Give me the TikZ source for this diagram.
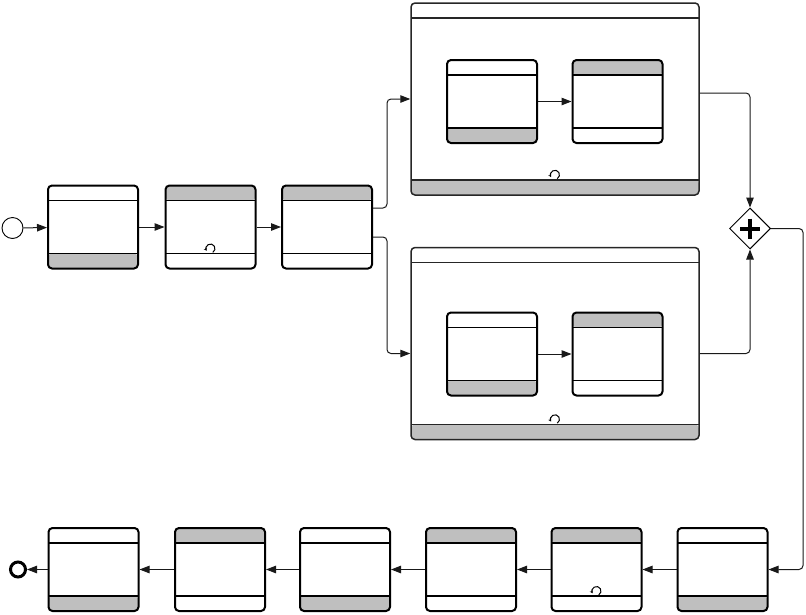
\documentclass[tikz,border=0pt]{standalone}
\usepackage{tikz}
\usetikzlibrary{calc}
\usetikzlibrary{arrows.meta}
\usetikzlibrary{shapes.geometric}

\begin{document}
\begin{tikzpicture}[
  x=1pt, y=-1pt,
  chor/.style 2 args={rectangle, rounded corners=4pt, draw, fill=white,
    line width=2pt, minimum width=90pt, minimum height=83pt, inner sep=0pt,
    path picture={
      \fill[#1] (path picture bounding box.north west) rectangle ([yshift=-15pt]path picture bounding box.north east);
      \fill[#2] (path picture bounding box.south west) rectangle ([yshift=15pt]path picture bounding box.south east);
      \draw[line width=1.7pt] ([yshift=-15pt]path picture bounding box.north west) -- ([yshift=-15pt]path picture bounding box.north east);
      \draw[line width=1.7pt] ([yshift=15pt]path picture bounding box.south west) -- ([yshift=15pt]path picture bounding box.south east);
    }},
  sub/.style 2 args={chor={#1}{#2}, minimum width=288pt, minimum height=192pt,
    line width=1.5pt, draw=black!85},
  startev/.style={circle, draw, fill=white, line width=0.9pt, minimum size=21pt, inner sep=0pt},
  endev/.style={circle, draw, fill=white, line width=3pt, minimum size=15pt, inner sep=0pt},
  gate/.style={diamond, draw, fill=white, line width=1pt, minimum width=41pt,
    minimum height=41pt, inner sep=0pt},
  flow/.style={draw=black!90, line width=1pt, rounded corners=4pt,
    -{Triangle[length=10pt,width=7.5pt]}},
  loopmark/.style={line width=1pt, -{Stealth[length=3pt,width=3.5pt]}}
]
\useasboundingbox (0,0) rectangle (806,614);

% ====== TOP ROW ======
\node[startev] (start) at (12.5,228) {};
\node[chor={white}{black!25}] (t1) at (93,227) {};
\node[chor={black!25}{white}] (t2) at (210.5,227) {};
\node[chor={black!25}{white}] (t3) at (327,227) {};

% ====== SUBPROCESSES ======
\node[sub={white}{black!25}] (sub1) at (555,99) {};
\node[chor={white}{black!25}] (s1a) at (492,101.5) {};
\node[chor={black!25}{white}] (s1b) at (617.5,101.5) {};

\node[sub={white}{black!25}] (sub2) at (555,343.5) {};
\node[chor={white}{black!25}] (s2a) at (492,354) {};
\node[chor={black!25}{white}] (s2b) at (617.5,354) {};

% ====== GATEWAY ======
\node[gate] (gw) at (750,228.5) {};
\draw[line width=4pt] ($(gw)+(-10,0)$) -- ($(gw)+(10,0)$);
\draw[line width=4pt] ($(gw)+(0,-10)$) -- ($(gw)+(0,10)$);

% ====== BOTTOM ROW ======
\foreach \name/\x/\tfill/\bfill in {a/93.5/white/black!25, b/220/black!25/white,
    c/345/white/black!25, d/471/black!25/white, e/596.5/black!25/white,
    f/722.5/white/black!25}{
  \node[chor={\tfill}{\bfill}] (\name) at (\x,569.5) {};
}
\node[endev] (end) at (18,569.5) {};

% ====== LOOP MARKERS ======
\foreach \n in {t2, sub1, sub2, e}{
  \draw[loopmark] ($(\n.south)+(0,-21)$) ++(60:4.5) arc[start angle=60, end angle=-210, radius=4.5];
}

% ====== FLOWS ======
\draw[flow] (start) -- (t1);
\draw[flow] (t1) -- (t2);
\draw[flow] (t2) -- (t3);
\draw[flow] ($(t3.east)+(0,-19)$) -- ++(14,0) |- (sub1.west);
\draw[flow] ($(t3.east)+(0,10)$) -- ++(14,0) |- ($(sub2.west)+(0,10)$);
\draw[flow] (s1a) -- (s1b);
\draw[flow] (s2a) -- (s2b);
\draw[flow] ($(sub1.east)+(0,-6)$) -| (gw.north);
\draw[flow] ($(sub2.east)+(0,10)$) -| (gw.south);
\draw[flow] (gw.east) -- ++(32,0) |- (f.east);
\foreach \from/\to in {f/e, e/d, d/c, c/b, b/a, a/end}
  \draw[flow] (\from) -- (\to);

\end{tikzpicture}
\end{document}
